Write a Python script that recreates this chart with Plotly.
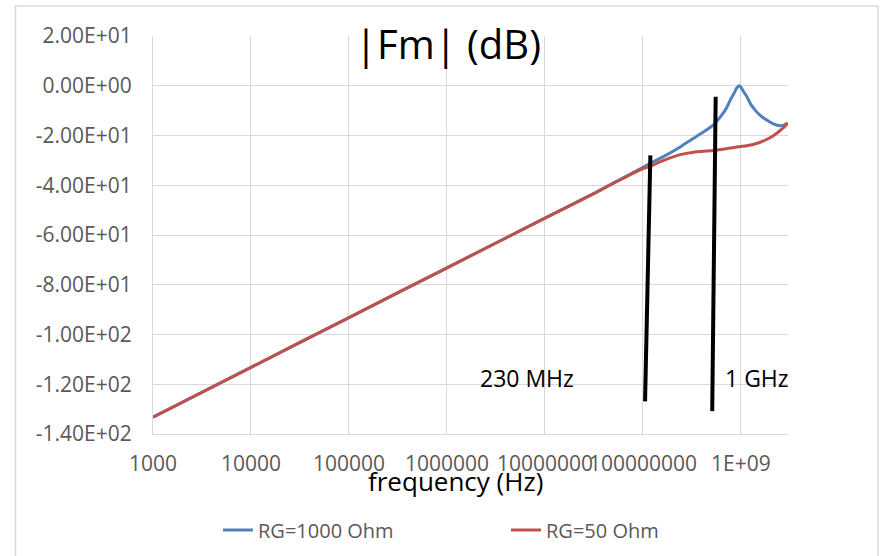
import plotly.graph_objects as go
import math

# ---- data ----
freq_hz = [1e3, 1e4, 1e5, 1e6, 1e7, 3.16e7, 5.37e7, 1.0e8, 1.17e8, 1.58e8, 2.4e8,
           3.16e8, 3.98e8, 5.25e8, 6.3e8, 7.1e8, 7.8e8, 8.5e8, 9.1e8, 9.55e8,
           1.0e9, 1.07e9, 1.15e9, 1.26e9, 1.41e9, 1.55e9, 1.78e9, 2.14e9,
           2.51e9, 2.75e9, 3.0e9]
rg1000_db = [-133.2, -113.2, -93.2, -73.2, -53.2, -43.3, -38.4, -32.8, -31.3, -28.7, -24.6,
             -21.5, -19.0, -15.7, -12.0, -9.0, -5.7, -3.0, -0.8, 0.0,
             -0.6, -2.5, -4.4, -7.5, -10.0, -11.7, -13.5, -15.3,
             -16.1, -15.8, -15.0]
rg50_db = [-133.2, -113.2, -93.2, -73.2, -53.2, -43.4, -38.6, -33.3, -32.4, -30.2, -27.7,
           -26.8, -26.4, -26.0, -25.6, -25.3, -25.0, -24.8, -24.6, -24.5,
           -24.4, -24.3, -24.1, -23.8, -23.3, -22.8, -21.8, -20.1,
           -18.0, -16.7, -15.0]

marker_230mhz_f = [1.19e8, 1.05e8]
marker_230mhz_db = [-28.0, -126.9]
marker_1ghz_f = [5.52e8, 5.09e8]
marker_1ghz_db = [-4.4, -130.8]

x_tickvals = [1e3, 1e4, 1e5, 1e6, 1e7, 1e8, 1e9]
x_ticktext = ["1000", "10000", "100000", "1000000", "10000000", "100000000", "1E+09"]
y_tickvals = [20, 0, -20, -40, -60, -80, -100, -120, -140]
y_ticktext = ["2.00E+01", "0.00E+00", "-2.00E+01", "-4.00E+01", "-6.00E+01",
              "-8.00E+01", "-1.00E+02", "-1.20E+02", "-1.40E+02"]

FONT = "Open Sans"
GRID = "#d9d9d9"
TICK = "#595959"

fig = go.Figure()
fig.add_trace(go.Scatter(x=freq_hz, y=rg1000_db, mode="lines", name="RG=1000 Ohm",
                         line=dict(color="#4f81bd", width=3, shape="spline", smoothing=0.6)))
fig.add_trace(go.Scatter(x=freq_hz, y=rg50_db, mode="lines", name="RG=50 Ohm",
                         line=dict(color="#c0504d", width=3, shape="spline", smoothing=0.6)))
fig.add_trace(go.Scatter(x=marker_230mhz_f, y=marker_230mhz_db, mode="lines", showlegend=False,
                         line=dict(color="black", width=4), hoverinfo="skip"))
fig.add_trace(go.Scatter(x=marker_1ghz_f, y=marker_1ghz_db, mode="lines", showlegend=False,
                         line=dict(color="black", width=4), hoverinfo="skip"))

fig.add_annotation(x=math.log10(6.5e6), y=-117.6, xref="x", yref="y", text="230 MHz",
                   showarrow=False, font=dict(family=FONT, size=23, color="black"))
fig.add_annotation(x=math.log10(1.45e9), y=-117.6, xref="x", yref="y", text="1 GHz",
                   showarrow=False, font=dict(family=FONT, size=23, color="black"))
# x-axis title (offset left of plot centre as in the reference)
fig.add_annotation(x=(455 - 153) / 635, y=-(481 - 434) / 398, xref="paper", yref="paper",
                   text="frequency (Hz)", showarrow=False, xanchor="center", yanchor="middle",
                   font=dict(family=FONT, size=26, color="black"))

# chart border
fig.add_shape(type="rect", xref="paper", yref="paper",
              x0=-0.2165, x1=1.1417, y0=-0.6, y1=1.0754,
              line=dict(color=GRID, width=1.5), fillcolor="rgba(0,0,0,0)", layer="below")

fig.update_layout(
    width=880, height=556,
    margin=dict(l=153, r=92, t=36, b=122, autoexpand=False),
    paper_bgcolor="white", plot_bgcolor="white",
    font=dict(family=FONT, color=TICK),
    title=dict(text="|Fm| (dB)", x=0.4646, xref="paper", xanchor="center",
               y=1 - 45 / 556, yref="container", yanchor="middle",
               font=dict(family=FONT, size=40, color="black")),
    xaxis=dict(type="log", range=[3, 9.48], tickvals=x_tickvals, ticktext=x_ticktext,
               showgrid=True, gridcolor=GRID, gridwidth=1, showline=True, linecolor=GRID,
               linewidth=1, ticks="", zeroline=False, tickangle=0, automargin=False,
               tickfont=dict(family=FONT, size=21, color=TICK), ticklabelstandoff=11),
    yaxis=dict(range=[-140, 20], tickvals=y_tickvals, ticktext=y_ticktext,
               showgrid=True, gridcolor=GRID, gridwidth=1, showline=True, linecolor=GRID,
               linewidth=1, ticks="", zeroline=False, automargin=False,
               tickfont=dict(family=FONT, size=21, color=TICK), ticklabelstandoff=16),
    legend=dict(orientation="h", xref="container", x=218 / 880, xanchor="left",
                yref="paper", y=-(530 - 434) / 398, yanchor="middle",
                entrywidth=243, entrywidthmode="pixels",
                font=dict(family=FONT, size=20, color=TICK), bgcolor="rgba(0,0,0,0)"),
    showlegend=True,
)

fig.write_html("out.html")
